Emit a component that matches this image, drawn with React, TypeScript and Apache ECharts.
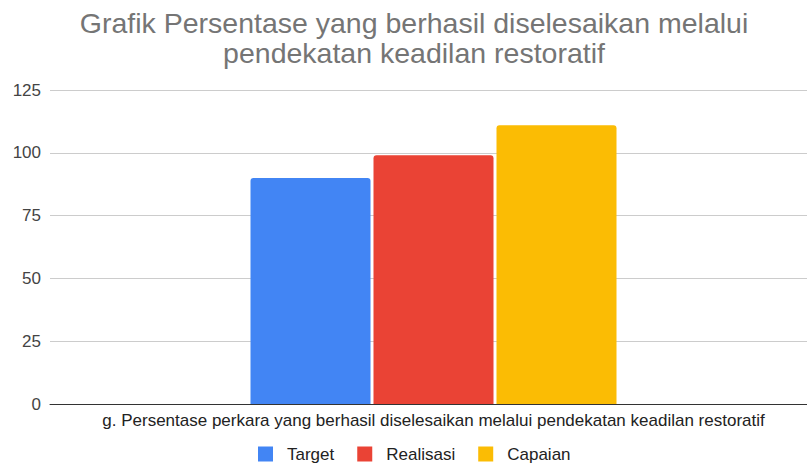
import React, { useEffect, useRef } from "react";
import * as echarts from "echarts";

const titleText = "Grafik Persentase yang berhasil diselesaikan melalui\npendekatan keadilan restoratif";
const categories = ["g. Persentase perkara yang berhasil diselesaikan melalui pendekatan keadilan restoratif"];
const seriesNames = ["Target", "Realisasi", "Capaian"];
const targetValues = [90];
const realisasiValues = [99];
const capaianValues = [111];
const seriesColors = ["#4285F4", "#EA4335", "#FBBC04"];

export default function App() {
  const ref = useRef<HTMLDivElement>(null);
  useEffect(() => {
    if (!ref.current) return;
    const chart = echarts.init(ref.current, undefined, { renderer: "svg" });
    const font = "'Liberation Sans', Arial, sans-serif";
    const data = [targetValues, realisasiValues, capaianValues];
    chart.setOption({
      animation: false,
      backgroundColor: "#ffffff",
      textStyle: { fontFamily: font },
      title: {
        text: titleText,
        left: 409,
        textAlign: "center",
        top: 3,
        textStyle: { fontFamily: font, fontSize: 28.5, fontWeight: "normal", color: "#757575", lineHeight: 30 },
      },
      legend: {
        top: 444,
        left: 258,
        padding: 0,
        itemWidth: 15,
        itemHeight: 15,
        itemGap: 23,
        icon: "rect",
        textStyle: { fontFamily: font, fontSize: 17, color: "#222222", padding: [0, 0, 0, 9], lineHeight: 20 },
        data: seriesNames,
      },
      grid: { left: 50, right: -10, top: 90, bottom: 60, outerBoundsMode: "none", containLabel: false },
      xAxis: {
        type: "category",
        data: categories,
        axisLine: { lineStyle: { color: "#333333", width: 1 } },
        axisTick: { show: false },
        axisLabel: { fontFamily: font, fontSize: 17, color: "#222222", margin: 8 },
      },
      yAxis: {
        type: "value",
        min: 0,
        max: 125,
        interval: 25,
        axisLine: { show: false },
        axisTick: { show: false },
        axisLabel: { fontFamily: font, fontSize: 17, color: "#444444", margin: 9 },
        splitLine: { lineStyle: { color: "#cccccc", width: 1 } },
      },
      series: seriesNames.map((name, i) => ({
        name,
        type: "bar",
        data: data[i],
        barWidth: 120,
        barGap: "2.5%",
        itemStyle: { color: seriesColors[i], borderRadius: [3, 3, 0, 0] },
      })),
    });
    return () => chart.dispose();
  }, []);
  return <div ref={ref} style={{ position: "absolute", left: 0, top: 0, width: 807, height: 464, overflow: "hidden" }} />;
}
